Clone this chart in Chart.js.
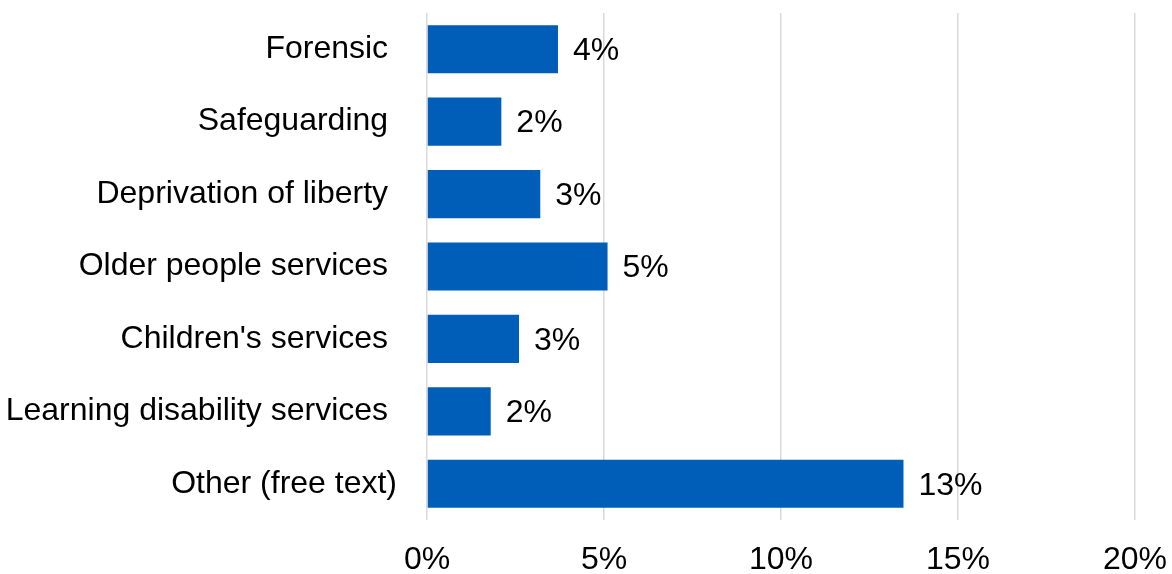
<!DOCTYPE html>
<html>
<head>
<meta charset="utf-8">
<script src="https://cdn.jsdelivr.net/npm/chart.js@4/dist/chart.umd.min.js"></script>
<style>
  html, body { margin: 0; padding: 0; background: #fff; }
  #wrap { width: 1172px; height: 574px; position: relative; }
</style>
</head>
<body>
<div id="wrap"><canvas id="c"></canvas></div>
<script>
// Share of responses by service area (%)
const categories = [
  "Forensic",
  "Safeguarding",
  "Deprivation of liberty",
  "Older people services",
  "Children's services",
  "Learning disability services",
  "Other (free text)"
];
const shares = [3.7, 2.1, 3.2, 5.1, 2.6, 1.8, 13.46];
const xTicks = [0, 5, 10, 15, 20];

const FONT = "'Liberation Sans', Arial, sans-serif";
const FONT_SIZE = 32;

// Writes the rounded percentage just past the end of each bar
const valueLabels = {
  id: 'valueLabels',
  afterDatasetsDraw(chart) {
    const { ctx } = chart;
    const meta = chart.getDatasetMeta(0);
    ctx.save();
    ctx.font = FONT_SIZE + 'px ' + FONT;
    ctx.fillStyle = '#000';
    ctx.textAlign = 'left';
    ctx.textBaseline = 'middle';
    meta.data.forEach((bar, i) => {
      const v = chart.data.datasets[0].data[i];
      ctx.fillText(Math.round(v) + '%', bar.x + 15, bar.y + 2);
    });
    ctx.restore();
  }
};

new Chart(document.getElementById('c'), {
  type: 'bar',
  data: {
    labels: categories,
    datasets: [{
      data: shares,
      backgroundColor: '#005EB8',
      borderWidth: 0,
      barPercentage: 0.665,
      categoryPercentage: 1
    }]
  },
  options: {
    indexAxis: 'y',
    responsive: true,
    maintainAspectRatio: false,
    animation: false,
    layout: { padding: { top: 13, right: 37, left: 0, bottom: 0 } },
    plugins: {
      legend: { display: false },
      tooltip: { enabled: false }
    },
    scales: {
      x: {
        min: 0,
        max: 20,
        afterBuildTicks(scale) {
          scale.ticks = xTicks.map(v => ({ value: v }));
        },
        afterFit(scale) {
          scale.height = 54;
          scale.paddingLeft = 0;
          scale.paddingRight = 0;
        },
        grid: { color: '#d9d9d9', lineWidth: 1.5, drawTicks: false },
        border: { display: false },
        ticks: {
          padding: 21,
          color: '#000',
          font: { family: FONT, size: FONT_SIZE },
          callback: v => v + '%'
        }
      },
      y: {
        afterFit(scale) {
          scale.width = 427;
          scale.paddingTop = 0;
          scale.paddingBottom = 0;
        },
        grid: { display: false, drawTicks: false },
        border: { display: false },
        ticks: {
          padding: 30,
          color: '#000',
          font: { family: FONT, size: FONT_SIZE },
          callback(v, i) {
            const lbl = this.getLabelForValue(v);
            return i === categories.length - 1 ? lbl : lbl + '\u00A0';
          }
        }
      }
    }
  },
  plugins: [valueLabels]
});
</script>
</body>
</html>
